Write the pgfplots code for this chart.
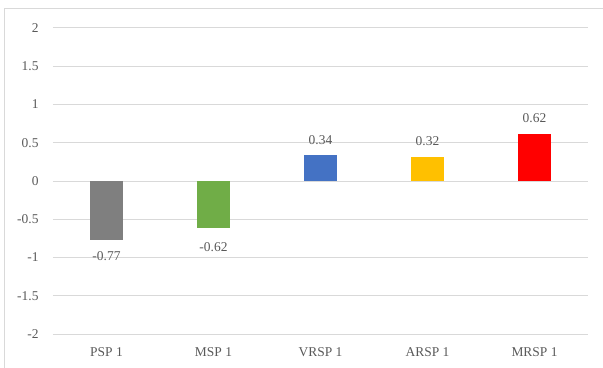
\documentclass[border=0pt]{standalone}
\usepackage{fontspec}
\setmainfont{Liberation Serif}
\usepackage{pgfplots}
\pgfplotsset{compat=1.18}
\definecolor{txt}{HTML}{595959}
\definecolor{grd}{HTML}{D9D9D9}
\definecolor{cgray}{HTML}{7F7F7F}
\definecolor{cgreen}{HTML}{70AD47}
\definecolor{cblue}{HTML}{4472C4}
\definecolor{cyellow}{HTML}{FFC000}
\definecolor{cred}{HTML}{FF0000}
\begin{document}
\begin{tikzpicture}[x=1bp,y=1bp]
  \begin{axis}[
    at={(0,0)}, anchor=south west,
    scale only axis, width=535bp, height=306bp,
    ymin=-2, ymax=2,
    ytick={-2,-1.5,-1,-0.5,0,0.5,1,1.5,2},
    xmin=-0.5, xmax=4.5,
    xtick={0,1,2,3,4},
    xticklabels={PSP 1,MSP 1,VRSP 1,ARSP 1,MRSP 1},
    axis line style={draw=none},
    major tick length=0pt,
    ymajorgrids,
    grid style={grd, line width=1bp},
    ybar, bar width=33bp, bar shift=0pt,
    /pgf/number format/assume math mode=true,
    ticklabel style={font=\fontsize{13.5}{15}\selectfont, text=txt},
    yticklabel style={xshift=-11bp},
    xticklabel style={yshift=-10bp},
    nodes near coords,
    nodes near coords style={font=\fontsize{13.5}{15}\selectfont, text=txt,
      inner ysep=10.5bp,
      /pgf/number format/fixed, /pgf/number format/precision=2},
  ]
    % PSP 1
    \addplot[fill=cgray, draw=none,
      every node near coord/.append style={yshift=-1bp}] coordinates {(0,-0.77)};
    % MSP 1
    \addplot[fill=cgreen, draw=none,
      every node near coord/.append style={yshift=-3bp}] coordinates {(1,-0.62)};
    % VRSP 1
    \addplot[fill=cblue, draw=none] coordinates {(2,0.34)};
    % ARSP 1
    \addplot[fill=cyellow, draw=none] coordinates {(3,0.32)};
    % MRSP 1
    \addplot[fill=cred, draw=none] coordinates {(4,0.62)};
  \end{axis}
  % chart frame (cut off at the right and bottom)
  \draw[grd, line width=1bp] (-48,-40) -- (-48,325) -- (560,325);
  \pgfresetboundingbox
  \useasboundingbox (-53,-33) rectangle (550,334);
\end{tikzpicture}
\end{document}
